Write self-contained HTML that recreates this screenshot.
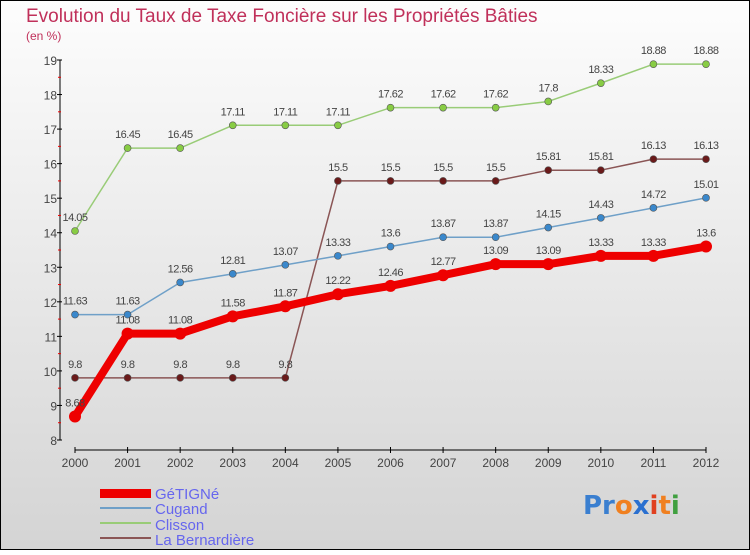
<!DOCTYPE html>
<html><head><meta charset="utf-8"><style>
html,body{margin:0;padding:0}
body{width:750px;height:550px;overflow:hidden;font-family:"Liberation Sans",sans-serif}
</style></head><body>
<svg id="chart" width="750" height="550" xmlns="http://www.w3.org/2000/svg">
<defs><linearGradient id="bg" x1="0" y1="0" x2="0" y2="1"><stop offset="0" stop-color="#fdfdfd"/><stop offset="1" stop-color="#d4d4d4"/></linearGradient></defs>
<rect x="0.5" y="0.5" width="749" height="549" fill="url(#bg)" stroke="#000"/>
<text x="26" y="22" font-size="19" fill="#c0305a">Evolution du Taux de Taxe Foncière sur les Propriétés Bâties</text>
<text x="26" y="40" font-size="12" fill="#c0305a">(en %)</text>
<g id="axes"></g><g id="series"></g>
<g>
<rect x="100" y="489" width="51" height="9" fill="#e00"/>
<text x="155" y="499" font-size="15" fill="#6666ee">GéTIGNé</text>
<line x1="100" y1="508" x2="151" y2="508" stroke="#6fa0c8" stroke-width="2"/>
<text x="155" y="514" font-size="15" fill="#6666ee">Cugand</text>
<line x1="100" y1="523" x2="151" y2="523" stroke="#99cc77" stroke-width="2"/>
<text x="155" y="530" font-size="15" fill="#6666ee">Clisson</text>
<line x1="100" y1="538" x2="151" y2="538" stroke="#8a5555" stroke-width="2"/>
<text x="155" y="545" font-size="15" fill="#6666ee">La Bernardière</text>
</g>
<text x="583" y="514" font-size="26" font-family="DejaVu Sans" font-weight="bold"><tspan fill="#3a7fd0">Pr</tspan><tspan fill="#f08020">o</tspan><tspan fill="#2a70d0">x</tspan><tspan fill="#e04020">i</tspan><tspan fill="#f08020">t</tspan><tspan fill="#40a040">i</tspan></text>
</svg>
<script>
const years=[2000,2001,2002,2003,2004,2005,2006,2007,2008,2009,2010,2011,2012];
const getigne=[8.68,11.08,11.08,11.58,11.87,12.22,12.46,12.77,13.09,13.09,13.33,13.33,13.6];
const cugand=[11.63,11.63,12.56,12.81,13.07,13.33,13.6,13.87,13.87,14.15,14.43,14.72,15.01];
const clisson=[14.05,16.45,16.45,17.11,17.11,17.11,17.62,17.62,17.62,17.8,18.33,18.88,18.88];
const bernardiere=[9.8,9.8,9.8,9.8,9.8,15.5,15.5,15.5,15.5,15.81,15.81,16.13,16.13];
const yTicks=[8,9,10,11,12,13,14,15,16,17,18,19];
const NS="http://www.w3.org/2000/svg";
function xs(i){return 75+i*(706-75)/12;}
function ys(v){return 440-(v-8)*(380/11);}
function mk(tag,attrs,parent){const e=document.createElementNS(NS,tag);for(const k in attrs)e.setAttribute(k,attrs[k]);parent.appendChild(e);return e;}
const ax=document.getElementById('axes');
let l=mk('line',{x1:60,y1:60,x2:60,y2:440,stroke:'#000'},ax);


l=mk('line',{x1:75,y1:450,x2:706,y2:450,stroke:'#000'},ax);


yTicks.forEach(v=>{
  mk('line',{x1:57,y1:ys(v),x2:62,y2:ys(v),stroke:'#000'},ax);
  if(v<19) mk('line',{x1:58,y1:ys(v+0.5),x2:61,y2:ys(v+0.5),stroke:'#e00'},ax);
  const t=mk('text',{x:57,y:ys(v)+5,'font-size':12,fill:'#444','text-anchor':'end'},ax);
  t.textContent=v;
  
  
});
years.forEach((y,i)=>{
  mk('line',{x1:xs(i),y1:447,x2:xs(i),y2:453,stroke:'#000'},ax);
  const t=mk('text',{x:xs(i),y:467,'font-size':12,fill:'#444','text-anchor':'middle'},ax);
  t.textContent=y;
  
  
});
const sg=document.getElementById('series');
function draw(name,vals,color,w,r,dot){
  const g=mk('g',{},sg);
  
  
  const p=mk('polyline',{points:vals.map((v,i)=>xs(i)+','+ys(v)).join(' '),fill:'none',stroke:color,'stroke-width':w,'stroke-linejoin':'round'},g);
  
  
  vals.forEach((v,i)=>{
    const c=mk('circle',{cx:xs(i),cy:ys(v),r:r,fill:dot,stroke:'#555','stroke-width':r>4?0:0.6},g);
    
    
    const t=mk('text',{x:xs(i),y:ys(v)-10,'font-size':11,fill:'#444','text-anchor':'middle','letter-spacing':'-0.5'},g);
    t.textContent=v;
    
    
  });
}
draw('clisson',clisson,'#99cc77',1.5,3.5,'#88cc44');
draw('la-bernardiere',bernardiere,'#8a5555',1.5,3.5,'#6a1a1a');
draw('cugand',cugand,'#6fa0c8',1.5,3.5,'#3a88cc');
draw('getigne',getigne,'#ee0000',8,6,'#ee0000');
</script>
</body></html>
